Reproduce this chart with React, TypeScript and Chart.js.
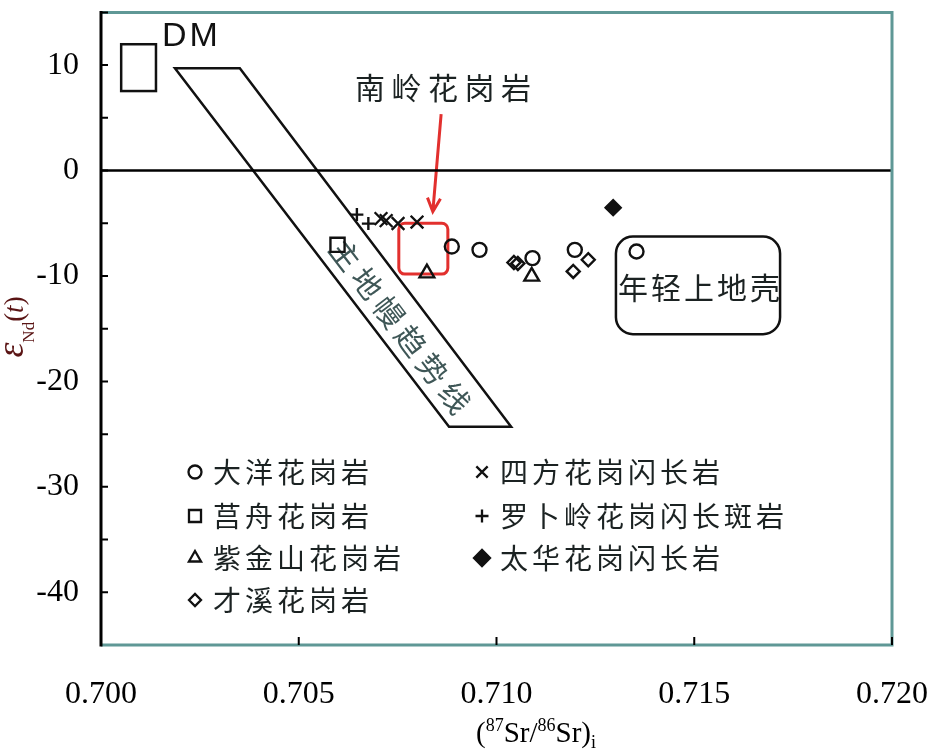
import React, { useEffect, useRef } from 'react';
import { Chart, registerables } from 'chart.js';
import { drawPoint } from 'chart.js/helpers';

Chart.register(...registerables);

// ---- axes ----
const xTickValues = [0.7, 0.705, 0.71, 0.715, 0.72];
const yTickValues = [10, 0, -10, -20, -30, -40];
const yMinorTickValues = [15, 10, 5, 0, -5, -10, -15, -20, -25, -30, -35, -40];

// ---- series ----
const seriesNames = ['大洋花岗岩', '莒舟花岗岩', '紫金山花岗岩', '才溪花岗岩', '四方花岗闪长岩', '罗卜岭花岗闪长斑岩', '太华花岗闪长岩'];
const dayangX = [0.70887, 0.70957, 0.71091, 0.71198, 0.71354];
const dayangY = [-7.21, -7.52, -8.31, -7.52, -7.68];
const juzhouX = [0.70598];
const juzhouY = [-7.04];
const zijinX = [0.70824, 0.71089];
const zijinY = [-9.73, -10.04];
const caixiX = [0.71044, 0.71054, 0.71232, 0.71194];
const caixiY = [-8.72, -8.81, -8.46, -9.57];
const sifangX = [0.70708, 0.70721, 0.70751, 0.70799];
const sifangY = [-4.56, -4.75, -5.03, -4.89];
const luoboX = [0.70647, 0.70676];
const luoboY = [-4.18, -5.03];
const taihuaX = [0.71295];
const taihuaY = [-3.52];

// ---- reference fields ----
const dmBoxX = [0.70051, 0.70139];
const dmBoxY = [11.98, 7.54];
const mantleX = [0.70187, 0.70351, 0.71037, 0.7088];
const mantleY = [9.71, 9.71, -24.31, -24.31];
const nanlingBoxX = [0.70753, 0.70877];
const nanlingBoxY = [-5.0, -9.82];
const crustBoxX = [0.71302, 0.71717];
const crustBoxY = [-6.26, -15.52];
const arrowX = [0.7086, 0.70839];
const arrowY = [5.36, -3.9];
const zeroLineX = [0.7, 0.72];
const zeroLineY = [0, 0];

const dmLabel = 'DM';
const dmLabelX = 0.70225, dmLabelY = 12.73;
const nanlingLabel = '南岭花岗岩';
const nanlingLabelX = 0.70865, nanlingLabelY = 7.91;
const crustLabel = '年轻上地壳';
const crustLabelX = 0.71512, crustLabelY = -11.08;
const mantleLabel = '主地幔趋势线';
const mantleLabelX = 0.70756, mantleLabelY = -14.77;

const mk = (xs: number[], ys: number[]) => xs.map((x, i) => ({ x, y: ys[i] }));

const INK = '#111';
const FRAME = '#5f9896';
const CJK = '"Noto Sans CJK SC", "Noto Sans", sans-serif';
const SERIF = '"Liberation Serif", "Times New Roman", serif';

type Sym = { style: any; r: number; fill: boolean };
const symbols: Sym[] = [
  { style: 'circle', r: 7, fill: false },
  { style: 'rect', r: 10, fill: false },
  { style: 'triangle', r: 8.5, fill: false },
  { style: 'rectRot', r: 6.5, fill: false },
  { style: 'crossRot', r: 9, fill: false },
  { style: 'cross', r: 6.5, fill: false },
  { style: 'rectRot', r: 7.5, fill: true },
];
const legendSym = [6.5, 8.5, 7, 6, 8, 6.5, 8];

function drawSpaced(ctx: CanvasRenderingContext2D, text: string, cx: number, cy: number, spacing: number) {
  const chars = Array.from(text);
  const widths = chars.map((c) => ctx.measureText(c).width);
  const total = widths.reduce((a, b) => a + b, 0) + spacing * (chars.length - 1);
  let x = cx - total / 2;
  ctx.textAlign = 'left';
  ctx.textBaseline = 'middle';
  chars.forEach((c, i) => {
    ctx.fillText(c, x, cy);
    x += widths[i] + spacing;
  });
}

function drawParts(ctx: CanvasRenderingContext2D, parts: { t: string; font: string; dy: number }[], cx: number, baseY: number) {
  let total = 0;
  parts.forEach((p) => { ctx.font = p.font; total += ctx.measureText(p.t).width; });
  let x = cx - total / 2;
  ctx.textAlign = 'left';
  ctx.textBaseline = 'alphabetic';
  parts.forEach((p) => {
    ctx.font = p.font;
    ctx.fillText(p.t, x, baseY + p.dy);
    x += ctx.measureText(p.t).width;
  });
}

const annotPlugin = {
  id: 'annot',
  beforeDatasetsDraw(chart: any) {
    const { ctx, scales } = chart;
    const px = (v: number) => scales.x.getPixelForValue(v);
    const py = (v: number) => scales.y.getPixelForValue(v);
    ctx.save();
    ctx.strokeStyle = INK;
    ctx.lineWidth = 2.5;
    ctx.lineJoin = 'miter';
    // DM box
    ctx.strokeRect(px(dmBoxX[0]), py(dmBoxY[0]), px(dmBoxX[1]) - px(dmBoxX[0]), py(dmBoxY[1]) - py(dmBoxY[0]));
    // mantle array
    ctx.beginPath();
    mantleX.forEach((v, i) => {
      if (i === 0) ctx.moveTo(px(v), py(mantleY[i]));
      else ctx.lineTo(px(v), py(mantleY[i]));
    });
    ctx.closePath();
    ctx.stroke();
    // young upper crust
    ctx.beginPath();
    ctx.roundRect(px(crustBoxX[0]), py(crustBoxY[0]), px(crustBoxX[1]) - px(crustBoxX[0]), py(crustBoxY[1]) - py(crustBoxY[0]), 17);
    ctx.stroke();
    // Nanling box
    ctx.strokeStyle = '#e2302e';
    ctx.lineWidth = 3;
    ctx.beginPath();
    ctx.roundRect(px(nanlingBoxX[0]), py(nanlingBoxY[0]), px(nanlingBoxX[1]) - px(nanlingBoxX[0]), py(nanlingBoxY[1]) - py(nanlingBoxY[0]), 6);
    ctx.stroke();
    // arrow
    const ax0 = px(arrowX[0]), ay0 = py(arrowY[0]), ax1 = px(arrowX[1]), ay1 = py(arrowY[1]);
    ctx.beginPath();
    ctx.moveTo(ax0, ay0);
    ctx.lineTo(ax1, ay1);
    const ang = Math.atan2(ay1 - ay0, ax1 - ax0);
    const hl = 15;
    ctx.moveTo(ax1 - hl * Math.cos(ang - 0.45), ay1 - hl * Math.sin(ang - 0.45));
    ctx.lineTo(ax1, ay1);
    ctx.lineTo(ax1 - hl * Math.cos(ang + 0.45), ay1 - hl * Math.sin(ang + 0.45));
    ctx.stroke();

    // labels
    ctx.fillStyle = INK;
    ctx.font = `34px "Liberation Sans", Arial, sans-serif`;
    drawSpaced(ctx, dmLabel, px(dmLabelX), py(dmLabelY), 3);
    ctx.fillStyle = '#1b2222';
    ctx.font = `30px ${CJK}`;
    drawSpaced(ctx, nanlingLabel, px(nanlingLabelX), py(nanlingLabelY), 6.5);
    drawSpaced(ctx, crustLabel, px(crustLabelX), py(crustLabelY), 3);
    // mantle trend label, rotated along band
    const a = Math.atan2(py(mantleY[3]) - py(mantleY[0]), px(mantleX[3]) - px(mantleX[0]));
    ctx.save();
    ctx.translate(px(mantleLabelX), py(mantleLabelY));
    ctx.rotate(a);
    ctx.fillStyle = '#3f5757';
    drawSpaced(ctx, mantleLabel, 0, 0, 6);
    ctx.restore();
    ctx.restore();
  },
  afterDraw(chart: any) {
    const { ctx, chartArea: ca, scales } = chart;
    ctx.save();
    // frame
    ctx.lineCap = 'butt';
    ctx.strokeStyle = FRAME;
    ctx.lineWidth = 3;
    ctx.beginPath();
    ctx.moveTo(ca.left, ca.top);
    ctx.lineTo(ca.right, ca.top);
    ctx.lineTo(ca.right, ca.bottom);
    ctx.lineTo(ca.left, ca.bottom);
    ctx.stroke();
    ctx.strokeStyle = '#000';
    ctx.beginPath();
    ctx.moveTo(ca.left, ca.top - 1.5);
    ctx.lineTo(ca.left, ca.bottom + 1.5);
    ctx.stroke();
    // inner ticks
    ctx.lineWidth = 2;
    ctx.beginPath();
    yMinorTickValues.forEach((v) => {
      const y = scales.y.getPixelForValue(v);
      ctx.moveTo(ca.left, y);
      ctx.lineTo(ca.left + 7, y);
    });
    xTickValues.slice(1).forEach((v) => {
      const x = scales.x.getPixelForValue(v);
      ctx.moveTo(x, ca.bottom);
      ctx.lineTo(x, ca.bottom - 8);
    });
    ctx.stroke();

    // legend
    ctx.font = `28px ${CJK}`;
    const colX = [195, 482];
    const textX = [213, 500];
    const rowY = [472, 516, 558, 600];
    seriesNames.forEach((name, i) => {
      const col = i < 4 ? 0 : 1;
      const row = i < 4 ? i : i - 4;
      const s = symbols[i];
      ctx.strokeStyle = INK;
      ctx.fillStyle = s.fill ? INK : 'rgba(0,0,0,0)';
      ctx.lineWidth = 2.3;
      drawPoint(ctx, { pointStyle: s.style, radius: legendSym[i], rotation: 0, borderWidth: 2.3 } as any, colX[col], rowY[row]);
      ctx.fillStyle = '#1b2222';
      ctx.font = `28px ${CJK}`;
      const chars = Array.from(name);
      let x = textX[col];
      ctx.textAlign = 'left';
      ctx.textBaseline = 'middle';
      chars.forEach((c) => {
        ctx.fillText(c, x, rowY[row]);
        x += ctx.measureText(c).width + 4;
      });
    });

    // y title: εNd(t)
    ctx.save();
    ctx.translate(23, 327);
    ctx.rotate(-Math.PI / 2);
    ctx.fillStyle = '#5a1414';
    drawParts(ctx, [
      { t: 'ε', font: `italic 38px ${SERIF}`, dy: 0 },
      { t: 'Nd', font: `17px ${SERIF}`, dy: 11 },
      { t: '(', font: `27px ${SERIF}`, dy: 0 },
      { t: 't', font: `italic 27px ${SERIF}`, dy: 0 },
      { t: ')', font: `27px ${SERIF}`, dy: 0 },
    ], 0, 0);
    ctx.restore();

    // x title: (87Sr/86Sr)i
    ctx.fillStyle = '#000';
    drawParts(ctx, [
      { t: '(', font: `29px ${SERIF}`, dy: 0 },
      { t: '87', font: `18px ${SERIF}`, dy: -11 },
      { t: 'Sr/', font: `29px ${SERIF}`, dy: 0 },
      { t: '86', font: `18px ${SERIF}`, dy: -11 },
      { t: 'Sr)', font: `29px ${SERIF}`, dy: 0 },
      { t: 'i', font: `18px ${SERIF}`, dy: 6 },
    ], 536, 742);
    ctx.restore();
  },
};

const zeroPad = (s: any) => {
  s.paddingTop = 0;
  s.paddingBottom = 0;
  s.paddingLeft = 0;
  s.paddingRight = 0;
};

export default function App() {
  const ref = useRef<HTMLCanvasElement | null>(null);
  useEffect(() => {
    if (!ref.current) return;
    const ds = (i: number, xs: number[], ys: number[]) => {
      const s = symbols[i];
      return {
        label: seriesNames[i],
        data: mk(xs, ys),
        pointStyle: s.style,
        pointRadius: s.r,
        pointHoverRadius: s.r,
        borderColor: INK,
        backgroundColor: s.fill ? INK : 'rgba(0,0,0,0)',
        borderWidth: 2.4,
        pointBorderWidth: 2.4,
        showLine: false,
      };
    };
    const chart = new Chart(ref.current, {
      type: 'scatter',
      data: {
        datasets: [
          ds(0, dayangX, dayangY),
          ds(1, juzhouX, juzhouY),
          ds(2, zijinX, zijinY),
          ds(3, caixiX, caixiY),
          ds(4, sifangX, sifangY),
          ds(5, luoboX, luoboY),
          ds(6, taihuaX, taihuaY),
          {
            label: 'zero',
            data: mk(zeroLineX, zeroLineY),
            showLine: true,
            pointRadius: 0,
            borderColor: '#000',
            borderWidth: 2.5,
          } as any,
        ],
      },
      options: {
        responsive: false,
        animation: false,
        devicePixelRatio: 1,
        layout: { padding: { top: 10, right: 53, left: 0, bottom: 0 } },
        plugins: { legend: { display: false }, tooltip: { enabled: false } },
        scales: {
          x: {
            type: 'linear',
            min: 0.7,
            max: 0.72,
            afterBuildTicks: (s: any) => { s.ticks = xTickValues.map((v) => ({ value: v })); },
            afterFit: (s: any) => { s.height = 109; zeroPad(s); },
            grid: { display: false },
            border: { display: false },
            ticks: {
              color: '#000',
              font: { family: SERIF, size: 32 },
              padding: 22,
              maxRotation: 0,
              autoSkip: false,
              callback: (v: any) => Number(v).toFixed(3),
            },
          },
          y: {
            type: 'linear',
            min: -45,
            max: 15,
            afterBuildTicks: (s: any) => { s.ticks = yTickValues.map((v) => ({ value: v })); },
            afterFit: (s: any) => { s.width = 101; zeroPad(s); },
            grid: { display: false },
            border: { display: false },
            ticks: {
              color: '#000',
              font: { family: SERIF, size: 32 },
              padding: 14,
              autoSkip: false,
              callback: (v: any) => String(v),
            },
          },
        },
      },
      plugins: [annotPlugin],
    } as any);
    return () => chart.destroy();
  }, []);
  return (
    <div style={{ position: 'fixed', left: 0, top: 0, width: 945, height: 754, background: '#fff' }}>
      <canvas ref={ref} width={945} height={754} style={{ display: 'block' }} />
    </div>
  );
}
